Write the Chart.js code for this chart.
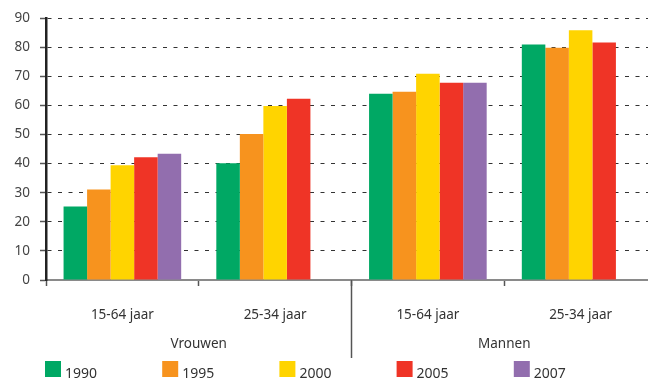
<!DOCTYPE html>
<html>
<head>
<meta charset="utf-8">
<script src="https://cdn.jsdelivr.net/npm/chart.js@4.4.1/dist/chart.umd.min.js"></script>
<style>
  html, body { margin: 0; padding: 0; overflow: hidden; background: #fff; }
  #wrap { width: 660px; height: 380px; }
</style>
</head>
<body>
<div id="wrap"><canvas id="chart"></canvas></div>
<script>
// data
const categories = ['15-64 jaar', '25-34 jaar', '15-64 jaar', '25-34 jaar'];
const groups = ['Vrouwen', 'Mannen'];
const years = ['1990', '1995', '2000', '2005', '2007'];
const values1990 = [25.3, 40.1, 64.0, 80.9];
const values1995 = [31.1, 50.2, 64.7, 79.8];
const values2000 = [39.4, 59.8, 70.9, 85.8];
const values2005 = [42.2, 62.3, 67.8, 81.6];
const values2007 = [43.4, null, 67.8, null];
const yTicks = [0, 10, 20, 30, 40, 50, 60, 70, 80, 90];

const colors = ['#00a864', '#f7931e', '#ffd400', '#ef3426', '#926eae'];
const allValues = [values1990, values1995, values2000, values2005, values2007];
const FONT = "'Noto Sans', sans-serif";

// vertical line between Vrouwen and Mannen + legend at the bottom
const extrasPlugin = {
  id: 'extras',
  afterDraw(chart) {
    const ctx = chart.ctx;
    const x = chart.scales.x;
    const sepX = (x.getPixelForValue(1) + x.getPixelForValue(2)) / 2;
    ctx.save();
    ctx.strokeStyle = '#555';
    ctx.lineWidth = 1.5;
    ctx.beginPath();
    ctx.moveTo(sepX, chart.chartArea.bottom);
    ctx.lineTo(sepX, 358);
    ctx.stroke();

    // legend
    chart.data.datasets.forEach((ds, i) => {
      const lx = 45 + i * 117.2;
      ctx.fillStyle = ds.backgroundColor;
      ctx.fillRect(lx, 361, 16, 16);
      ctx.fillStyle = '#333';
      ctx.font = '14px ' + FONT;
      ctx.textBaseline = 'alphabetic';
      ctx.textAlign = 'left';
      ctx.fillText(ds.label, lx + 20, 378);
    });
    ctx.restore();
  }
};

new Chart(document.getElementById('chart'), {
  type: 'bar',
  data: {
    labels: categories,
    datasets: years.map((y, i) => ({
      label: y,
      data: allValues[i],
      backgroundColor: colors[i],
      borderWidth: 0,
      barPercentage: 1.0,
      categoryPercentage: 0.77
    }))
  },
  options: {
    responsive: true,
    maintainAspectRatio: false,
    animation: false,
    layout: { padding: { top: 18, right: 3, left: 0, bottom: 30 } },
    plugins: {
      legend: { display: false },
      tooltip: { enabled: false }
    },
    scales: {
      x: {
        position: 'bottom',
        offset: true,
        grid: {
          display: true,
          offset: true,
          drawOnChartArea: false,
          drawTicks: true,
          tickLength: 6,
          color: '#555',
          tickColor: '#555',
          tickWidth: 1.5
        },
        border: { display: true, color: '#8a8a8a', width: 2 },
        ticks: {
          color: '#333',
          font: { family: FONT, size: 13.5 },
          padding: 21,
          maxRotation: 0
        },
        afterFit: s => { s.height = 50; }
      },
      group: {
        type: 'category',
        position: 'bottom',
        labels: groups,
        offset: true,
        grid: { display: false, drawTicks: false },
        border: { display: false },
        ticks: {
          color: '#333',
          font: { family: FONT, size: 13.5 },
          padding: 6
        },
        afterFit: s => { s.height = 20; }
      },
      y: {
        min: 0,
        max: 90,
        afterBuildTicks: s => { s.ticks = yTicks.map(v => ({ value: v })); },
        grid: {
          color: ctx => ctx.index === 0 ? 'rgba(0,0,0,0)' : '#333',
          lineWidth: 1,
          drawTicks: true,
          tickLength: 6,
          tickColor: '#555',
          tickWidth: 1.5
        },
        border: { display: true, color: '#222', width: 2.5, dash: [4, 6.5] },
        ticks: {
          color: '#444',
          font: { family: FONT, size: 13.5 },
          padding: 10
        },
        afterFit: s => { s.width = 46; }
      }
    }
  },
  plugins: [extrasPlugin]
});
</script>
</body>
</html>
